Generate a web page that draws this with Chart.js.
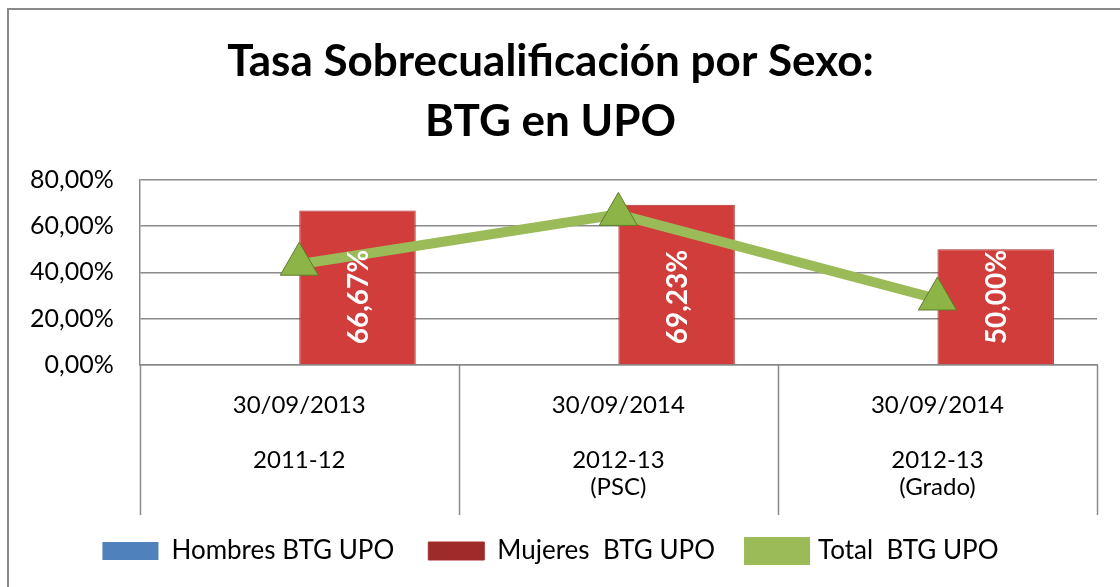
<!DOCTYPE html>
<html>
<head>
<meta charset="utf-8">
<script src="https://cdn.jsdelivr.net/npm/chart.js@4"></script>
<style>
    html, body { margin: 0; padding: 0; background: #fff; }
    #wrap { position: relative; width: 1120px; height: 587px; overflow: hidden; }
    #frame { position: absolute; left: 7px; top: 8px; width: 1200px; height: 700px;
             border-left: 2px solid #8a8a8a; border-top: 2px solid #8a8a8a; }
    canvas { position: absolute; left: 0; top: 0; }
</style>
</head>
<body>
<div id="wrap">
    <div id="frame"></div>
    <canvas id="chart" width="1120" height="587"></canvas>
</div>
<script>
// Chart values
const categories = [
    ['30/09/2013', '', '2011-12'],
    ['30/09/2014', '', '2012-13', '(PSC)'],
    ['30/09/2014', '', '2012-13', '(Grado)']
];
const hombres = [0, 0, 0];
const mujeres = [66.67, 69.23, 50.00];
const total = [43.5, 65.0, 28.5];
const yTicks = [0, 20, 40, 60, 80];

const FONT = 'Lato, "Open Sans", sans-serif';

function pct(v) {
    return v.toFixed(2).replace('.', ',') + '%';
}

// Bar fill with darker edges, like the original's bevel look
function barFill(base, edge) {
    return function (context) {
        const bar = context.element;
        if (!bar || !bar.width) return base;
        const c = context.chart.ctx;
        const g = c.createLinearGradient(bar.x - bar.width / 2, 0, bar.x + bar.width / 2, 0);
        g.addColorStop(0, edge);
        g.addColorStop(0.08, base);
        g.addColorStop(0.92, base);
        g.addColorStop(1, edge);
        return g;
    };
}

// White rotated value labels inside the Mujeres bars
const barLabels = {
    id: 'barLabels',
    afterDatasetsDraw(chart) {
        const ctx = chart.ctx;
        const meta = chart.getDatasetMeta(1);
        ctx.save();
        ctx.fillStyle = '#ffffff';
        ctx.font = 'bold 28px ' + FONT;
        ctx.textAlign = 'left';
        ctx.textBaseline = 'middle';
        meta.data.forEach((bar, i) => {
            ctx.save();
            ctx.translate(bar.x + 1, bar.base - 20);
            ctx.rotate(-Math.PI / 2);
            ctx.fillText(pct(mujeres[i]), 0, 0);
            ctx.restore();
        });
        ctx.restore();
    }
};

// Vertical separators below the category axis
const catSeparators = {
    id: 'catSeparators',
    afterDraw(chart) {
        const ctx = chart.ctx;
        const x = chart.scales.x;
        const area = chart.chartArea;
        const half = (x.getPixelForValue(1) - x.getPixelForValue(0)) / 2;
        ctx.save();
        ctx.strokeStyle = '#8a8a8a';
        ctx.lineWidth = 1.5;
        for (let i = 0; i <= categories.length; i++) {
            const px = Math.round(x.getPixelForValue(0) - half + i * half * 2) + 0.5;
            ctx.beginPath();
            ctx.moveTo(px, area.bottom);
            ctx.lineTo(px, area.bottom + 150);
            ctx.stroke();
        }
        ctx.restore();
    }
};

const ctx = document.getElementById('chart').getContext('2d');
new Chart(ctx, {
    type: 'bar',
    data: {
        labels: categories,
        datasets: [
            {
                label: 'Hombres BTG UPO',
                data: hombres,
                backgroundColor: '#4F81BD',
                borderColor: '#2C5A8F',
                borderWidth: 0,
                order: 2
            },
            {
                label: 'Mujeres  BTG UPO',
                data: mujeres,
                backgroundColor: barFill('#D13D3A', '#9E2B29'),
                borderColor: '#A52F2C',
                borderWidth: 1,
                order: 2
            },
            {
                type: 'line',
                label: 'Total  BTG UPO',
                data: total,
                borderColor: '#9BBB59',
                backgroundColor: '#9BBB59',
                borderWidth: 10,
                pointStyle: 'triangle',
                pointRadius: 22,
                pointBackgroundColor: '#8DB446',
                pointBorderColor: '#5F7D2C',
                pointBorderWidth: 1,
                order: 1
            }
        ]
    },
    options: {
        responsive: false,
        animation: false,
        layout: { padding: { left: 4, right: 23, top: 6, bottom: 13 } },
        datasets: {
            bar: { categoryPercentage: 0.73, barPercentage: 1 }
        },
        plugins: {
            title: {
                display: true,
                text: ['Tasa Sobrecualificación por Sexo:', 'BTG en UPO'],
                font: { family: FONT, size: 44, weight: 'bold', lineHeight: 1.36 },
                color: '#000',
                padding: { top: 26, bottom: 28 }
            },
            legend: {
                position: 'bottom',
                labels: {
                    font: { family: FONT, size: 26 },
                    color: '#000',
                    boxWidth: 56,
                    boxHeight: 18,
                    padding: 34,
                    sort: (a, b) => a.datasetIndex - b.datasetIndex
                }
            },
            tooltip: { enabled: false }
        },
        scales: {
            x: {
                grid: { display: false },
                border: { display: true, color: '#8a8a8a', width: 1.5 },
                ticks: {
                    font: { family: FONT, size: 24, lineHeight: 1.15 },
                    color: '#000',
                    padding: 18,
                    maxRotation: 0
                },
                afterFit(scale) { scale.height = 139; }
            },
            y: {
                min: 0,
                max: 80,
                afterBuildTicks(scale) {
                    scale.ticks = yTicks.map(v => ({ value: v }));
                },
                grid: { color: '#8a8a8a', lineWidth: 1.5, drawTicks: false },
                border: { display: true, color: '#8a8a8a', width: 1.5 },
                ticks: {
                    font: { family: FONT, size: 25 },
                    color: '#000',
                    padding: 26,
                    callback: value => pct(value)
                }
            }
        }
    },
    plugins: [barLabels, catSeparators]
});
</script>
</body>
</html>
